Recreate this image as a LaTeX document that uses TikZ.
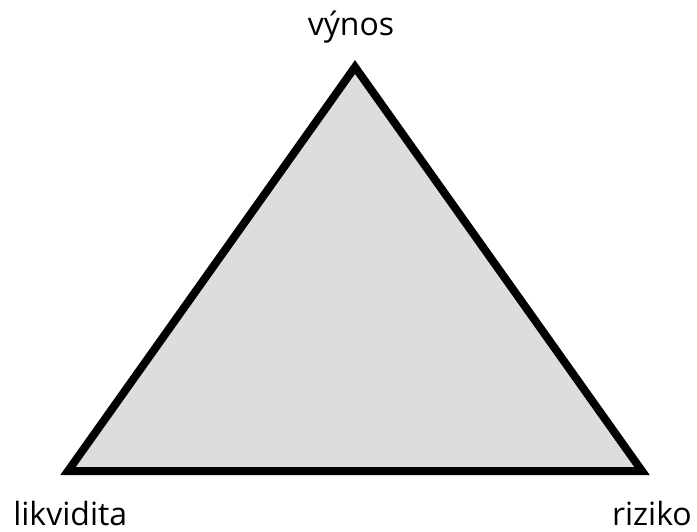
\documentclass[tikz,border=0pt]{standalone}
\usepackage{fontspec}
\setmainfont{Open Sans}
\usepackage{tikz}
\usetikzlibrary{calc,positioning}
\definecolor{greyfill}{HTML}{DDDDDD}
\tikzset{
  tri/.style={draw=black,line width=6pt,fill=greyfill,miter limit=10},
  lbl/.style={font=\fontsize{24}{28}\selectfont,anchor=base,inner sep=0pt}
}
\begin{document}
\begin{tikzpicture}[x=0.75pt,y=-0.75pt]
\useasboundingbox (0,0) rectangle (697,532);
\coordinate (V) at (355,67);
\coordinate (L) at (68,471);
\coordinate (R) at (642,471);
\draw[tri] (V)--(L)--(R)--cycle;
\node[lbl] (vynos) at (351,35) {výnos};
\node[lbl,anchor=base west] (likv) at (13,525) {likvidita};
\node[lbl,anchor=base east] (riz) at (692,525) {riziko};
\end{tikzpicture}
\end{document}
